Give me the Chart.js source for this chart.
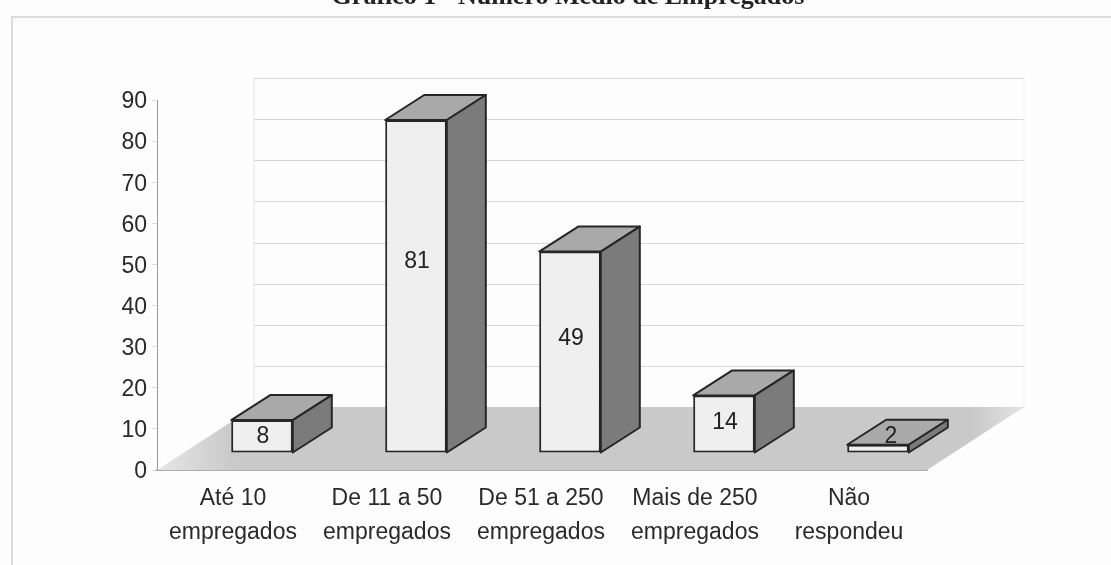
<!DOCTYPE html>
<html>
<head>
<meta charset="utf-8">
<script src="https://cdn.jsdelivr.net/npm/chart.js@4/dist/chart.umd.min.js"></script>
<style>
  html, body { margin: 0; padding: 0; background: #fdfdfd; }
  #wrap { position: relative; width: 1111px; height: 565px; overflow: hidden; }
</style>
</head>
<body>
<div id="wrap"><canvas id="chartArea" width="1111" height="565"></canvas></div>
<script>
const chartTitle = "Gráfico 1 - Número Médio de Empregados";
const categories = [["Até 10", "empregados"], ["De 11 a 50", "empregados"], ["De 51 a 250", "empregados"], ["Mais de 250", "empregados"], ["Não", "respondeu"]];
const values = [8, 81, 49, 14, 2];

const FONT = '"Liberation Sans", Arial, sans-serif';
const OUTLINE = "#262626";

// depth of the box the chart sits in, and of each bar inside it
const floorDepth = { x: 97, y: -63 };
const barShift = { x: 28, y: -17 };
const barDepth = { x: 39, y: -25 };

function poly(ctx, pts, fill, stroke, lineWidth) {
    ctx.beginPath();
    pts.forEach((p, i) => i ? ctx.lineTo(p[0], p[1]) : ctx.moveTo(p[0], p[1]));
    ctx.closePath();
    if (fill) { ctx.fillStyle = fill; ctx.fill(); }
    if (stroke) { ctx.strokeStyle = stroke; ctx.lineWidth = lineWidth; ctx.lineJoin = "round"; ctx.stroke(); }
}

const boxPlugin = {
    id: "box3d",
    // back wall and floor; the wall stops at the 80 line
    beforeDatasetsDraw(chart) {
        const { ctx, chartArea: a, scales: { y } } = chart;
        const dx = floorDepth.x, dy = floorDepth.y;
        const wallTop = y.getPixelForValue(80) + dy;
        ctx.save();
        ctx.lineWidth = 1;
        y.ticks.filter(t => t.value < 90).forEach(t => {
            const py = Math.round(y.getPixelForValue(t.value) + dy) + 0.5;
            ctx.strokeStyle = "#d6d6d6";
            ctx.beginPath();
            ctx.moveTo(a.left + dx, py);
            ctx.lineTo(a.right + dx, py);
            ctx.stroke();
        });
        ctx.strokeStyle = "#e6e6e6";
        ctx.beginPath();
        ctx.moveTo(a.left + dx, wallTop);
        ctx.lineTo(a.left + dx, a.bottom + dy);
        ctx.stroke();
        ctx.strokeStyle = "#efefef";
        ctx.beginPath();
        ctx.moveTo(a.right + dx, wallTop);
        ctx.lineTo(a.right + dx, a.bottom + dy);
        ctx.stroke();
        // floor shading washes out towards its two far corners
        const shade = ctx.createLinearGradient(a.left, 0, a.right + dx, 0);
        shade.addColorStop(0, "#e6e6e6");
        shade.addColorStop(0.09, "#c9c9c9");
        shade.addColorStop(0.94, "#c9c9c9");
        shade.addColorStop(1, "#e4e4e4");
        poly(ctx, [[a.left, a.bottom], [a.left + dx, a.bottom + dy], [a.right + dx, a.bottom + dy], [a.right, a.bottom]], shade);
        ctx.restore();
        // bars are drawn in front of the floor, moved in from the axis plane
        ctx.save();
        ctx.translate(barShift.x, barShift.y);
    },
    afterDatasetsDraw(chart) {
        const { ctx } = chart;
        const bars = chart.getDatasetMeta(0).data;
        const dx = barDepth.x, dy = barDepth.y;
        bars.forEach((bar, i) => {
            const l = bar.x - bar.width / 2, r = bar.x + bar.width / 2;
            const top = bar.y, base = bar.base;
            poly(ctx, [[l, top], [l + dx, top + dy], [r + dx, top + dy], [r, top]], "#a9a9a9", OUTLINE, 2);
            poly(ctx, [[r, top], [r + dx, top + dy], [r + dx, base + dy], [r, base]], "#7b7b7b", OUTLINE, 2);
            // value label, on the top face when the front is too short for it
            const h = base - top;
            ctx.font = "23px " + FONT;
            ctx.fillStyle = "#222";
            ctx.textAlign = "center";
            ctx.textBaseline = "middle";
            if (h < 12) ctx.fillText(values[i], bar.x + 13, top - 8);
            else ctx.fillText(values[i], bar.x + 1, top + h * 0.418 + 3);
        });
        ctx.restore();
    },
    // page heading and frame
    afterDraw(chart) {
        const { ctx } = chart;
        ctx.save();
        ctx.font = 'bold 26px "Liberation Serif", serif';
        ctx.fillStyle = "#222";
        ctx.textAlign = "center";
        ctx.textBaseline = "alphabetic";
        ctx.fillText(chartTitle, 568, 4);
        ctx.strokeStyle = "#dcdcdc";
        ctx.lineWidth = 2;
        ctx.beginPath();
        ctx.moveTo(12, 565);
        ctx.lineTo(12, 17);
        ctx.lineTo(1111, 17);
        ctx.stroke();
        ctx.restore();
    }
};

new Chart(document.getElementById("chartArea"), {
    type: "bar",
    data: {
        labels: categories,
        datasets: [{
            data: values,
            backgroundColor: "#efefef",
            borderColor: OUTLINE,
            borderWidth: 2,
            borderSkipped: false,
            barPercentage: 0.4,
            categoryPercentage: 1
        }]
    },
    options: {
        responsive: false,
        animation: false,
        layout: { padding: { left: 157 - 60, top: 100, right: 1111 - 927, bottom: 0 } },
        plugins: { legend: { display: false }, title: { display: false }, tooltip: { enabled: false } },
        scales: {
            x: {
                afterFit(scale) { scale.height = 95; },
                grid: { display: false },
                border: { color: "#adadad", width: 2 },
                ticks: {
                    color: "#2a2a2a",
                    font: { family: FONT, size: 23, lineHeight: 1.48 },
                    padding: 4,
                    labelOffset: -1,
                    maxRotation: 0,
                    autoSkip: false
                }
            },
            y: {
                min: 0,
                max: 90,
                afterFit(scale) { scale.width = 60; },
                grid: { drawOnChartArea: false, color: "#dddddd", tickLength: 5 },
                border: { color: "#9a9a9a", width: 1 },
                ticks: { stepSize: 10, color: "#2a2a2a", font: { family: FONT, size: 23 }, padding: 5, labelOffset: 2 }
            }
        }
    },
    plugins: [boxPlugin]
});
</script>
</body>
</html>
